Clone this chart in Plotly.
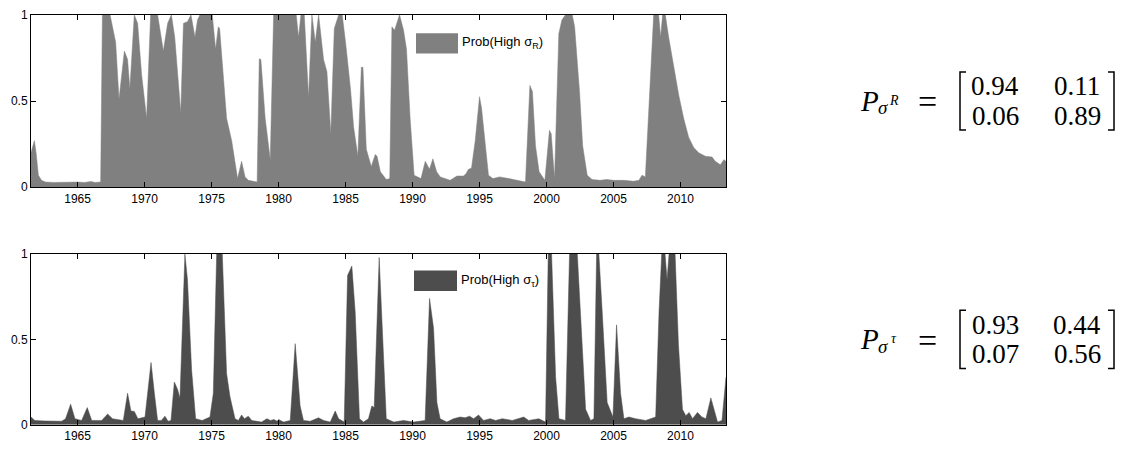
import plotly.graph_objects as go

W, H = 1122, 453

# ---------------- data ----------------
years_R = [1961.52, 1961.77, 1961.9, 1962.07, 1962.3, 1962.6, 1963.2, 1963.8, 1964.4, 1965.0,
           1965.5, 1966.0, 1966.3, 1966.6, 1966.72, 1966.85, 1967.42, 1967.84, 1968.09, 1968.49,
           1968.73, 1968.9, 1969.23, 1969.48, 1969.78, 1970.15, 1970.45, 1970.97, 1971.4, 1971.72,
           1972.0, 1972.25, 1972.7, 1972.9, 1973.2, 1973.46, 1973.76, 1973.95, 1974.13, 1975.05,
           1975.3, 1975.5, 1975.6, 1976.12, 1976.5, 1976.94, 1977.24, 1977.5, 1977.75, 1978.4,
           1978.56, 1978.68, 1979.0, 1979.38, 1979.63, 1981.32, 1981.49, 1981.67, 1981.92, 1982.24,
           1982.49, 1982.74, 1982.99, 1983.36, 1983.61, 1983.9, 1984.16, 1984.49, 1984.75, 1985.0,
           1985.37, 1985.6, 1985.92, 1986.18, 1986.3, 1986.55, 1986.92, 1987.22, 1987.35, 1987.6,
           1988.04, 1988.3, 1988.46, 1988.66, 1989.03, 1989.33, 1989.55, 1989.82, 1990.12, 1990.63,
           1990.95, 1991.27, 1991.52, 1991.8, 1992.07, 1992.81, 1993.31, 1993.81, 1994.0, 1994.18,
           1994.4, 1994.68, 1995.0, 1995.15, 1995.42, 1995.67, 1996.0, 1996.5, 1997.2, 1997.94,
           1998.43, 1998.76, 1998.95, 1999.18, 1999.45, 1999.88, 2000.22, 2000.35, 2000.6, 2000.92,
           2001.15, 2001.42, 2001.92, 2002.1, 2002.47, 2002.7, 2003.04, 2003.4, 2004.0, 2004.5,
           2005.0, 2005.8, 2006.5, 2006.9, 2007.13, 2007.38, 2007.63, 2008.0, 2008.37, 2008.52,
           2008.67, 2008.87, 2009.12, 2009.49, 2009.87, 2010.24, 2010.61, 2010.99, 2011.36, 2011.86,
           2012.36, 2012.6, 2012.98, 2013.24, 2013.4]
prob_R = [0.20, 0.27, 0.20, 0.07, 0.04, 0.03, 0.028, 0.03, 0.028, 0.03,
          0.028, 0.033, 0.028, 0.03, 0.03, 1.0, 1.0, 0.84, 0.51, 0.79,
          0.74, 0.57, 1.0, 0.95, 0.65, 0.40, 1.0, 1.0, 0.79, 0.95,
          1.0, 0.87, 0.43, 0.95, 0.96, 1.0, 0.87, 0.97, 1.0, 1.0,
          0.80, 0.93, 0.92, 0.40, 0.27, 0.05, 0.15, 0.06, 0.04, 0.03,
          0.745, 0.74, 0.40, 0.16, 1.0, 1.0, 0.87, 1.0, 1.0, 0.52,
          1.0, 0.84, 1.0, 0.74, 0.67, 0.31, 0.92, 1.0, 1.0, 0.84,
          0.57, 0.35, 0.18, 0.695, 0.695, 0.22, 0.12, 0.19, 0.18, 0.09,
          0.045, 0.05, 0.93, 0.91, 1.0, 0.91, 0.80, 0.40, 0.07, 0.05,
          0.15, 0.105, 0.165, 0.09, 0.06, 0.04, 0.065, 0.065, 0.08, 0.105,
          0.11, 0.27, 0.525, 0.46, 0.24, 0.07, 0.05, 0.06, 0.05, 0.04,
          0.03, 0.59, 0.555, 0.24, 0.09, 0.04, 0.33, 0.31, 0.05, 0.89,
          0.97, 1.0, 1.0, 0.93, 0.55, 0.24, 0.07, 0.045, 0.04, 0.045,
          0.04, 0.04, 0.035, 0.04, 0.07, 0.06, 0.46, 1.0, 1.0, 0.87,
          1.0, 1.0, 0.87, 0.70, 0.535, 0.40, 0.29, 0.23, 0.20, 0.18,
          0.175, 0.15, 0.13, 0.16, 0.15]

years_T = [1961.52, 1961.8, 1962.5, 1963.2, 1963.81, 1964.1, 1964.48, 1964.8, 1965.3, 1965.72,
           1966.05, 1966.8, 1967.24, 1967.6, 1968.41, 1968.73, 1968.98, 1969.23, 1969.5, 1970.03,
           1970.48, 1970.73, 1970.97, 1971.25, 1971.52, 1971.75, 1971.97, 1972.22, 1972.47, 1972.64,
           1973.01, 1973.2, 1973.51, 1973.81, 1974.3, 1974.88, 1975.13, 1975.38, 1975.8, 1976.12,
           1976.37, 1976.75, 1977.0, 1977.24, 1977.45, 1977.74, 1978.0, 1978.73, 1979.13, 1979.4,
           1979.65, 1979.9, 1980.0, 1980.37, 1980.87, 1981.05, 1981.24, 1981.4, 1981.61, 1981.86,
           1982.36, 1982.98, 1983.36, 1983.86, 1984.23, 1984.48, 1984.9, 1985.15, 1985.47, 1985.72,
           1986.04, 1986.34, 1986.71, 1986.96, 1987.14, 1987.51, 1987.78, 1988.04, 1988.6, 1989.33,
           1990.08, 1990.94, 1991.27, 1991.57, 1991.82, 1992.06, 1992.56, 1993.06, 1993.56, 1993.93,
           1994.26, 1994.56, 1994.93, 1995.3, 1995.8, 1996.2, 1996.7, 1997.45, 1998.3, 1998.67,
           1999.43, 1999.93, 2000.13, 2000.38, 2000.68, 2000.93, 2001.42, 2001.72, 2002.3, 2002.62,
           2002.92, 2003.29, 2003.54, 2003.74, 2003.91, 2004.16, 2004.53, 2004.96, 2005.23, 2005.53,
           2005.78, 2006.15, 2006.65, 2007.4, 2008.15, 2008.4, 2008.6, 2008.85, 2009.0, 2009.15,
           2009.6, 2009.85, 2010.15, 2010.4, 2010.65, 2010.9, 2011.27, 2011.6, 2011.9, 2012.27,
           2012.52, 2012.77, 2013.1, 2013.4]
prob_T = [0.045, 0.025, 0.022, 0.02, 0.02, 0.035, 0.12, 0.035, 0.025, 0.10,
          0.025, 0.025, 0.063, 0.035, 0.025, 0.185, 0.08, 0.078, 0.035, 0.045,
          0.365, 0.185, 0.025, 0.025, 0.05, 0.02, 0.025, 0.25, 0.205, 0.155,
          1.0, 0.85, 0.32, 0.035, 0.025, 0.045, 0.185, 1.0, 1.0, 0.30,
          0.165, 0.035, 0.025, 0.057, 0.035, 0.05, 0.025, 0.015, 0.035, 0.025,
          0.03, 0.02, 0.03, 0.015, 0.025, 0.24, 0.475, 0.32, 0.11, 0.025,
          0.02, 0.04, 0.025, 0.015, 0.08, 0.035, 0.015, 0.875, 0.93, 0.66,
          0.035, 0.015, 0.035, 0.11, 0.10, 0.98, 0.47, 0.035, 0.015, 0.025,
          0.015, 0.025, 0.74, 0.565, 0.13, 0.035, 0.015, 0.035, 0.045, 0.04,
          0.05, 0.035, 0.057, 0.025, 0.035, 0.025, 0.035, 0.025, 0.045, 0.025,
          0.035, 0.015, 1.0, 1.0, 0.28, 0.035, 0.025, 1.0, 1.0, 0.565,
          0.09, 0.025, 0.035, 1.0, 1.0, 0.66, 0.13, 0.045, 0.585, 0.185,
          0.035, 0.045, 0.035, 0.025, 0.045, 0.66, 1.0, 1.0, 0.85, 1.0,
          1.0, 0.47, 0.09, 0.053, 0.072, 0.035, 0.072, 0.045, 0.035, 0.157,
          0.09, 0.015, 0.025, 0.28]

x_ticks = [1965, 1970, 1975, 1980, 1985, 1990, 1995, 2000, 2005, 2010]
y_ticks = [0, 0.5, 1]
y_tick_labels = ["0", "0.5", "1"]

matrix_R = [["0.94", "0.11"], ["0.06", "0.89"]]
matrix_T = [["0.93", "0.44"], ["0.07", "0.56"]]

legend_R = "Prob(High σ<sub>R</sub>)"
legend_T = "Prob(High σ<sub>τ</sub>)"

color_R = "#808080"
color_T = "#4d4d4d"

# ---------------- layout helpers (pixel -> paper) ----------------
def px(x):
    return x / W

def py(y):
    return 1 - y / H

X_RANGE = [1961.52, 2013.4]
sans = "Liberation Sans, Arial, sans-serif"
serif = "Liberation Serif, DejaVu Serif, serif"

fig = go.Figure()
fig.add_trace(go.Scatter(x=years_R, y=prob_R, mode="lines", fill="tozeroy",
                         fillcolor=color_R, line=dict(color=color_R, width=0.5),
                         xaxis="x", yaxis="y", showlegend=False, hoverinfo="skip"))
fig.add_trace(go.Scatter(x=years_T, y=prob_T, mode="lines", fill="tozeroy",
                         fillcolor=color_T, line=dict(color=color_T, width=0.5),
                         xaxis="x2", yaxis="y2", showlegend=False, hoverinfo="skip"))

axis_common = dict(showline=True, linecolor="black", linewidth=1, mirror="ticks",
                   ticks="inside", ticklen=5, tickwidth=1, tickcolor="black",
                   showgrid=False, zeroline=False,
                   tickfont=dict(family=sans, size=12, color="black"))

fig.update_layout(
    width=W, height=H,
    margin=dict(l=0, r=0, t=0, b=0),
    paper_bgcolor="white", plot_bgcolor="white",
    xaxis=dict(domain=[px(31), px(726)], range=X_RANGE, anchor="y",
               tickvals=x_ticks, **axis_common),
    yaxis=dict(domain=[py(186), py(8)], range=[0, 1], anchor="x",
               tickvals=y_ticks, ticktext=y_tick_labels, **axis_common),
    xaxis2=dict(domain=[px(31), px(726)], range=X_RANGE, anchor="y2",
                tickvals=x_ticks, **axis_common),
    yaxis2=dict(domain=[py(431), py(255)], range=[0, 1], anchor="x2",
                tickvals=y_ticks, ticktext=y_tick_labels, **axis_common),
)

shapes = []
annotations = []

# legend swatches + texts
for (x0, x1, y0, y1, col, txt, ty) in [
    (416, 458, 27, 48, color_R, legend_R, 37),
    (414, 457, 272, 293, color_T, legend_T, 282),
]:
    shapes.append(dict(type="rect", xref="paper", yref="paper",
                       x0=px(x0), x1=px(x1), y0=py(y1), y1=py(y0),
                       fillcolor=col, line=dict(width=0)))
    annotations.append(dict(xref="paper", yref="paper", x=px(x1 + 2), y=py(ty),
                            xanchor="left", yanchor="middle", showarrow=False,
                            text=txt, font=dict(family=sans, size=13, color="black")))


def add_matrix(cy, sup_txt, mat):
    # P_{sigma^X} =
    annotations.append(dict(xref="paper", yref="paper", x=px(869), y=py(cy),
                            xanchor="center", yanchor="middle", showarrow=False,
                            text="<i>P</i>", font=dict(family=serif, size=29, color="black")))
    annotations.append(dict(xref="paper", yref="paper", x=px(883), y=py(cy + 7),
                            xanchor="center", yanchor="middle", showarrow=False,
                            text="<i>σ</i>", font=dict(family=serif, size=19, color="black")))
    annotations.append(dict(xref="paper", yref="paper", x=px(894), y=py(cy - 1),
                            xanchor="center", yanchor="middle", showarrow=False,
                            text="<i>" + sup_txt + "</i>", font=dict(family=serif, size=14, color="black")))
    annotations.append(dict(xref="paper", yref="paper", x=px(927), y=py(cy + 1),
                            xanchor="center", yanchor="middle", showarrow=False,
                            text="=", font=dict(family=serif, size=34, color="black")))
    # entries
    col_x = [995, 1077]
    row_y = [cy - 15, cy + 15]
    for i in range(2):
        for j in range(2):
            annotations.append(dict(xref="paper", yref="paper", x=px(col_x[j]), y=py(row_y[i]),
                                    xanchor="center", yanchor="middle", showarrow=False,
                                    text=mat[i][j], font=dict(family=serif, size=27, color="black")))
    # brackets
    top, bot = cy - 30, cy + 30
    lx, rx, s = 960, 1114, 6
    shapes.append(dict(type="path", xref="paper", yref="paper",
                       path=f"M {px(lx + s)} {py(top)} L {px(lx)} {py(top)} L {px(lx)} {py(bot)} L {px(lx + s)} {py(bot)}",
                       line=dict(color="black", width=1.5)))
    shapes.append(dict(type="path", xref="paper", yref="paper",
                       path=f"M {px(rx - s)} {py(top)} L {px(rx)} {py(top)} L {px(rx)} {py(bot)} L {px(rx - s)} {py(bot)}",
                       line=dict(color="black", width=1.5)))

add_matrix(97, "R", matrix_R)
add_matrix(343, "τ", matrix_T)

fig.update_layout(shapes=shapes, annotations=annotations)

fig.write_html("out.html")
